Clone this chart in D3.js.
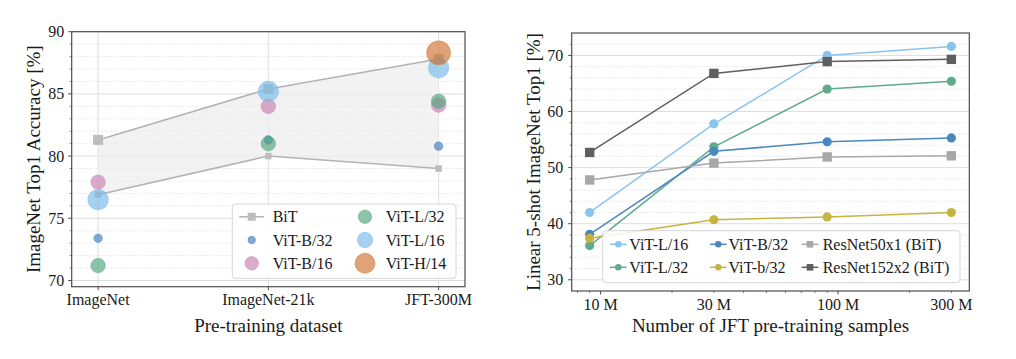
<!DOCTYPE html>
<html><head><meta charset="utf-8">
<script src="https://cdn.jsdelivr.net/npm/d3@7"></script>
<style>body{margin:0;background:#fff}svg{display:block}text{font-family:"Liberation Serif","Times New Roman",serif;fill:#1a1a1a}</style>
</head><body><svg id="c" width="1016" height="359"></svg>
<script>
// ---------- Left panel data ----------
const datasets = ["ImageNet", "ImageNet-21k", "JFT-300M"];
const bitUpper = [81.3, 85.4, 87.8];
const bitLower = [76.9, 80.0, 79.0];
const vitNames = ["ViT-B/32", "ViT-B/16", "ViT-L/32", "ViT-L/16", "ViT-H/14"];
const vitB32 = [73.4, 81.3, 80.8];
const vitB16 = [77.9, 84.0, 84.1];
const vitL32 = [71.2, 81.0, 84.4];
const vitL16 = [76.5, 85.2, 87.1];
const vitH14 = [null, null, 88.3];
const leftYTicks = [70, 75, 80, 85, 90];

// ---------- Right panel data ----------
const samples = [9e6, 30e6, 90e6, 300e6];
const rightXTicks = [10e6, 30e6, 100e6, 300e6];
const rightXLabels = ["10 M", "30 M", "100 M", "300 M"];
const rightYTicks = [30, 40, 50, 60, 70];
const fsNames = ["ViT-L/16", "ViT-L/32", "ViT-B/32", "ViT-b/32", "ResNet50x1 (BiT)", "ResNet152x2 (BiT)"];
const fsL16 = [42.0, 57.8, 70.0, 71.6];
const fsL32 = [36.1, 53.7, 64.0, 65.4];
const fsB32 = [38.1, 52.9, 54.6, 55.3];
const fsb32 = [37.4, 40.7, 41.2, 42.0];
const fsR50 = [47.8, 50.8, 51.9, 52.1];
const fsR152 = [52.7, 66.8, 68.9, 69.3];

const svg = d3.select("#c");
const FRAME = "#4d4d4d", GRID = "#dedede", MINOR = "#cfcfcf";

// ================= LEFT =================
const L = {x0: 71.7, x1: 465, y0: 31.7, y1: 286.7};
const xL = d3.scalePoint().domain(datasets).range([L.x0, L.x1]).padding(0.155);
const yL = d3.scaleLinear().domain([69.5, 90]).range([L.y1, L.y0]);
const gL = svg.append("g");

const minorL = d3.range(70, 91).filter(v => v % 5 !== 0);
gL.selectAll(".mn").data(minorL).join("line")
  .attr("x1", L.x0).attr("x2", L.x1).attr("y1", d => yL(d)).attr("y2", d => yL(d))
  .attr("stroke", MINOR).attr("stroke-width", 0.8).attr("stroke-dasharray", "1,2");
gL.selectAll(".mj").data(leftYTicks).join("line")
  .attr("x1", L.x0).attr("x2", L.x1).attr("y1", d => yL(d)).attr("y2", d => yL(d))
  .attr("stroke", GRID).attr("stroke-width", 1);
gL.selectAll(".vg").data(datasets).join("line")
  .attr("x1", d => xL(d)).attr("x2", d => xL(d)).attr("y1", L.y0).attr("y2", L.y1)
  .attr("stroke", GRID).attr("stroke-width", 1);

// BiT band
const idx = d3.range(datasets.length);
gL.append("path").datum(idx)
  .attr("d", d3.area().x(i => xL(datasets[i])).y0(i => yL(bitLower[i])).y1(i => yL(bitUpper[i])))
  .attr("fill", "#eeeeee").attr("fill-opacity", 0.75);
[bitUpper, bitLower].forEach((arr, k) => {
  gL.append("path").datum(idx)
    .attr("d", d3.line().x(i => xL(datasets[i])).y(i => yL(arr[i])))
    .attr("fill", "none").attr("stroke", "#b3b3b3").attr("stroke-width", 1.5);
  const s = k === 0 ? 10 : 6.5;
  gL.selectAll(null).data(idx).join("rect")
    .attr("x", i => xL(datasets[i]) - s / 2).attr("y", i => yL(arr[i]) - s / 2)
    .attr("width", s).attr("height", s).attr("fill", "#bdbdbd");
});

const vitSeries = [
  {name: "ViT-B/32", vals: vitB32, color: "#3e7cba", r: 4.3, lr: 3.7},
  {name: "ViT-B/16", vals: vitB16, color: "#c97eb0", r: 7.3, lr: 6.7},
  {name: "ViT-L/32", vals: vitL32, color: "#4fa47c", r: 7.3, lr: 6.7},
  {name: "ViT-L/16", vals: vitL16, color: "#77b9ea", r: 10.3, lr: 7.7},
  {name: "ViT-H/14", vals: vitH14, color: "#d0702f", r: 12, lr: 10}
];
vitSeries.forEach(s => {
  gL.selectAll(null).data(idx.filter(i => s.vals[i] != null)).join("circle")
    .attr("cx", i => xL(datasets[i])).attr("cy", i => yL(s.vals[i])).attr("r", s.r)
    .attr("fill", s.color).attr("fill-opacity", 0.65)
    .attr("stroke", s.color).attr("stroke-opacity", 0.5).attr("stroke-width", 0.8);
});

// frame & ticks
gL.append("rect").attr("x", L.x0).attr("y", L.y0).attr("width", L.x1 - L.x0).attr("height", L.y1 - L.y0)
  .attr("fill", "none").attr("stroke", FRAME).attr("stroke-width", 1.2);
gL.selectAll(".ytk").data(leftYTicks).join("line")
  .attr("x1", L.x0 - 3.5).attr("x2", L.x0).attr("y1", d => yL(d)).attr("y2", d => yL(d)).attr("stroke", FRAME);
gL.selectAll(".ymt").data(minorL).join("line")
  .attr("x1", L.x0 - 2).attr("x2", L.x0).attr("y1", d => yL(d)).attr("y2", d => yL(d)).attr("stroke", FRAME).attr("stroke-width", 0.7);
gL.selectAll(".ytl").data(leftYTicks).join("text")
  .attr("x", L.x0 - 7.5).attr("y", d => yL(d) + 5.5).attr("text-anchor", "end").attr("font-size", 16).text(d => d);
gL.selectAll(".xtk").data(datasets).join("line")
  .attr("x1", d => xL(d)).attr("x2", d => xL(d)).attr("y1", L.y1).attr("y2", L.y1 + 3.5).attr("stroke", FRAME);
gL.selectAll(".xtl").data(datasets).join("text")
  .attr("x", d => xL(d)).attr("y", 304.5).attr("text-anchor", "middle").attr("font-size", 16).text(d => d);
gL.append("text").attr("x", (L.x0 + L.x1) / 2).attr("y", 331.5).attr("text-anchor", "middle")
  .attr("font-size", 19).text("Pre-training dataset");
gL.append("text").attr("transform", `translate(40,${(L.y0 + L.y1) / 2}) rotate(-90)`)
  .attr("text-anchor", "middle").attr("font-size", 19).text("ImageNet Top1 Accuracy [%]");

// left legend
const lg = gL.append("g");
lg.append("rect").attr("x", 232.3).attr("y", 204).attr("width", 223.7).attr("height", 74.3).attr("rx", 3)
  .attr("fill", "#fff").attr("fill-opacity", 0.85).attr("stroke", "#d6d6d6");
const legL = [{name: "BiT", bit: true}].concat(vitSeries);
legL.forEach((e, k) => {
  const col = Math.floor(k / 3), row = k % 3;
  const mx = col === 0 ? 251.7 : 365, tx = col === 0 ? 272.7 : 385.7, y = 216.7 + row * 23.3;
  if (e.bit) {
    lg.append("line").attr("x1", mx - 12.5).attr("x2", mx + 12.5).attr("y1", y).attr("y2", y)
      .attr("stroke", "#b3b3b3").attr("stroke-width", 1.5);
    lg.append("rect").attr("x", mx - 4).attr("y", y - 4).attr("width", 8).attr("height", 8).attr("fill", "#bdbdbd");
  } else {
    lg.append("circle").attr("cx", mx).attr("cy", y).attr("r", e.lr)
      .attr("fill", e.color).attr("fill-opacity", 0.65).attr("stroke", e.color).attr("stroke-opacity", 0.5);
  }
  lg.append("text").attr("x", tx).attr("y", y + 5.5).attr("font-size", 16).text(e.name);
});

// ================= RIGHT =================
const R = {x0: 571.7, x1: 969.3, y0: 33, y1: 291};
const xR = d3.scaleLog().domain([7.56e6, 357e6]).range([R.x0, R.x1]);
const yR = d3.scaleLinear().domain([28, 74]).range([R.y1, R.y0]);
const gR = svg.append("g");

const minorR = d3.range(32, 74, 2).filter(v => v % 10 !== 0);
gR.selectAll(".mn").data(minorR).join("line")
  .attr("x1", R.x0).attr("x2", R.x1).attr("y1", d => yR(d)).attr("y2", d => yR(d))
  .attr("stroke", MINOR).attr("stroke-width", 0.8).attr("stroke-dasharray", "1,2");
gR.selectAll(".mj").data(rightYTicks).join("line")
  .attr("x1", R.x0).attr("x2", R.x1).attr("y1", d => yR(d)).attr("y2", d => yR(d))
  .attr("stroke", GRID).attr("stroke-width", 1);

const fsSeries = [
  {name: fsNames[0], vals: fsL16, color: "#8ac4ee", sq: false},
  {name: fsNames[1], vals: fsL32, color: "#5fab8b", sq: false},
  {name: fsNames[2], vals: fsB32, color: "#4b87c0", sq: false},
  {name: fsNames[3], vals: fsb32, color: "#c6b43f", sq: false},
  {name: fsNames[4], vals: fsR50, color: "#a8a8a8", sq: true},
  {name: fsNames[5], vals: fsR152, color: "#5f5f5f", sq: true}
];
const sidx = d3.range(samples.length);
fsSeries.forEach(s => {
  gR.append("path").datum(sidx)
    .attr("d", d3.line().x(i => xR(samples[i])).y(i => yR(s.vals[i])))
    .attr("fill", "none").attr("stroke", s.color).attr("stroke-width", 1.5);
  if (s.sq) {
    gR.selectAll(null).data(sidx).join("rect")
      .attr("x", i => xR(samples[i]) - 4.7).attr("y", i => yR(s.vals[i]) - 4.7)
      .attr("width", 9.4).attr("height", 9.4).attr("fill", s.color);
  } else {
    gR.selectAll(null).data(sidx).join("circle")
      .attr("cx", i => xR(samples[i])).attr("cy", i => yR(s.vals[i])).attr("r", 4.6).attr("fill", s.color);
  }
});

gR.append("rect").attr("x", R.x0).attr("y", R.y0).attr("width", R.x1 - R.x0).attr("height", R.y1 - R.y0)
  .attr("fill", "none").attr("stroke", FRAME).attr("stroke-width", 1.2);
gR.selectAll(".ytk").data(rightYTicks).join("line")
  .attr("x1", R.x0 - 3.5).attr("x2", R.x0).attr("y1", d => yR(d)).attr("y2", d => yR(d)).attr("stroke", FRAME);
gR.selectAll(".ymt").data(minorR).join("line")
  .attr("x1", R.x0 - 2).attr("x2", R.x0).attr("y1", d => yR(d)).attr("y2", d => yR(d)).attr("stroke", FRAME).attr("stroke-width", 0.7);
gR.selectAll(".ytl").data(rightYTicks).join("text")
  .attr("x", R.x0 - 8.5).attr("y", d => yR(d) + 5.5).attr("text-anchor", "end").attr("font-size", 16).text(d => d);
// log ticks
const majorX = [1e7, 1e8];
const minorX = [8e6, 9e6, 2e7, 3e7, 4e7, 5e7, 6e7, 7e7, 8e7, 9e7, 2e8, 3e8];
gR.selectAll(".xmj").data(majorX).join("line")
  .attr("x1", d => xR(d)).attr("x2", d => xR(d)).attr("y1", R.y1).attr("y2", R.y1 + 3.5).attr("stroke", FRAME);
gR.selectAll(".xmn").data(minorX).join("line")
  .attr("x1", d => xR(d)).attr("x2", d => xR(d)).attr("y1", R.y1).attr("y2", R.y1 + 2).attr("stroke", FRAME).attr("stroke-width", 0.7);
gR.selectAll(".xtl").data(rightXTicks).join("text")
  .attr("x", d => xR(d)).attr("y", 310).attr("text-anchor", "middle").attr("font-size", 16)
  .text((d, i) => rightXLabels[i]);
gR.append("text").attr("x", (R.x0 + R.x1) / 2).attr("y", 331.5).attr("text-anchor", "middle")
  .attr("font-size", 19).text("Number of JFT pre-training samples");
gR.append("text").attr("transform", `translate(539.5,${(R.y0 + R.y1) / 2}) rotate(-90)`)
  .attr("text-anchor", "middle").attr("font-size", 19).text("Linear 5-shot ImageNet Top1 [%]");

// right legend
const rg = gR.append("g");
rg.append("rect").attr("x", 602.7).attr("y", 230.7).attr("width", 357.3).attr("height", 52).attr("rx", 3)
  .attr("fill", "#fff").attr("fill-opacity", 0.85).attr("stroke", "#d6d6d6");
const colHandle = [610, 710, 801.7], colText = [629.3, 728.5, 822.7];
fsSeries.forEach((s, k) => {
  const col = Math.floor(k / 2), row = k % 2;
  const hx = colHandle[col], y = 244.3 + row * 23, mx = hx + 8.3;
  rg.append("line").attr("x1", hx).attr("x2", hx + 16.6).attr("y1", y).attr("y2", y)
    .attr("stroke", s.color).attr("stroke-width", 1.5);
  if (s.sq) rg.append("rect").attr("x", mx - 3.3).attr("y", y - 3.3).attr("width", 6.6).attr("height", 6.6).attr("fill", s.color);
  else rg.append("circle").attr("cx", mx).attr("cy", y).attr("r", 3.3).attr("fill", s.color);
  rg.append("text").attr("x", colText[col]).attr("y", y + 5.5).attr("font-size", 16).text(s.name);
});
</script></body></html>
